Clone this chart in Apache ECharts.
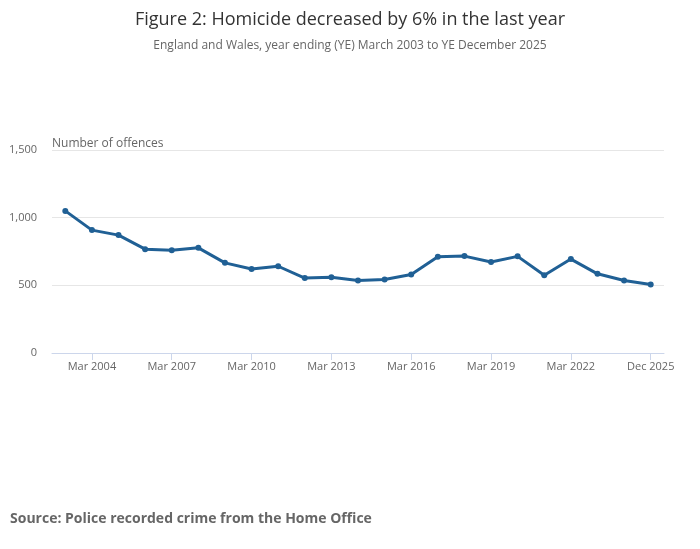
<!DOCTYPE html>
<html>
<head>
<meta charset="utf-8">
<script src="https://cdn.jsdelivr.net/npm/echarts@6/dist/echarts.min.js"></script>
<style>
html,body{margin:0;padding:0;background:#fff;}
#chart{width:700px;height:549px;}
</style>
</head>
<body>
<div id="chart"></div>
<script>
const categories = ["Mar 2003","Mar 2004","Mar 2005","Mar 2006","Mar 2007","Mar 2008","Mar 2009","Mar 2010","Mar 2011","Mar 2012","Mar 2013","Mar 2014","Mar 2015","Mar 2016","Mar 2017","Mar 2018","Mar 2019","Mar 2020","Mar 2021","Mar 2022","Mar 2023","Mar 2024","Dec 2025"];
const homicides = [1050,908,871,767,760,777,666,621,641,554,559,536,543,580,711,716,672,714,575,694,585,536,506];
const yTicks = [0,500,1000,1500];

const chart = echarts.init(document.getElementById('chart'), null, {renderer:'canvas'});
const font = '"Open Sans", "Noto Sans", sans-serif';
chart.setOption({
  animation:false,
  textStyle:{fontFamily:font},
  title:[
    {text:'Figure 2: Homicide decreased by 6% in the last year', left:'center', top:6,
     textStyle:{fontFamily:font, fontSize:18, fontWeight:'normal', color:'#333333'}},
    {text:'England and Wales, year ending (YE) March 2003 to YE December 2025', left:'center', top:35,
     textStyle:{fontFamily:font, fontSize:12, fontWeight:'normal', color:'#666666'}},
    {text:'Number of offences', left:47, top:133,
     textStyle:{fontFamily:font, fontSize:12, fontWeight:'normal', color:'#666666'}},
    {text:'Source: Police recorded crime from the Home Office', left:5, top:507,
     textStyle:{fontFamily:font, fontSize:14, fontWeight:'bold', color:'#666666'}}
  ],
  grid:{left:52, right:36, top:150, bottom:196, containLabel:false},
  xAxis:{
    type:'category', data:categories, boundaryGap:true,
    axisLine:{show:true, lineStyle:{color:'#ccd6eb', width:1}},
    axisTick:{show:true, alignWithLabel:true, length:7, lineStyle:{color:'#ccd6eb'},
      interval:function(i){return (i-1)%3===0;}},
    axisLabel:{color:'#666666', fontSize:11, margin:8,
      interval:function(i){return (i-1)%3===0;}},
    splitLine:{show:false}
  },
  yAxis:{
    type:'value', min:yTicks[0], max:yTicks[yTicks.length-1], interval:500,
    axisLine:{show:false}, axisTick:{show:false},
    axisLabel:{color:'#666666', fontSize:11, margin:15,
      formatter:function(v){return v.toLocaleString('en-GB');}},
    splitLine:{show:true, lineStyle:{color:'#e6e6e6', width:1}}
  },
  series:[{
    type:'line', data:homicides,
    lineStyle:{color:'#206095', width:3},
    itemStyle:{color:'#206095'},
    symbol:'circle', symbolSize:6, showSymbol:true
  }]
});
</script>
</body>
</html>
